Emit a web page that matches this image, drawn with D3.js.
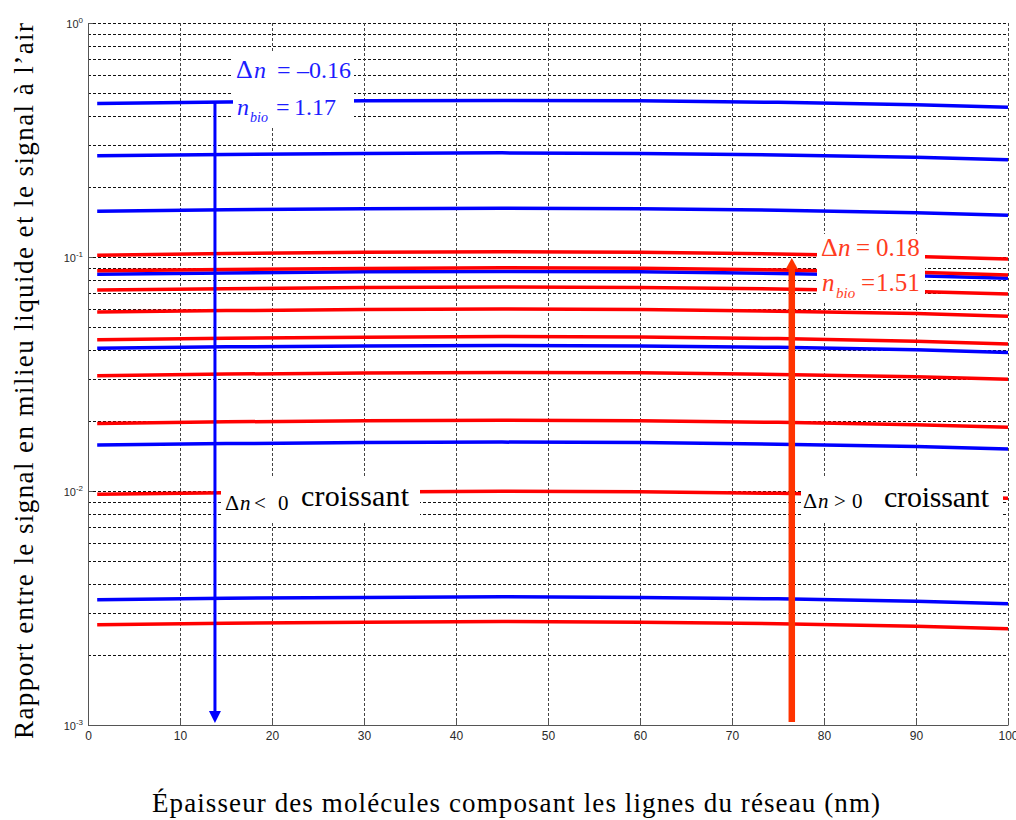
<!DOCTYPE html>
<html>
<head>
<meta charset="utf-8">
<script src="https://cdn.jsdelivr.net/npm/d3@7"></script>
<style>
  body { margin: 0; background: #fff; }
  svg { display: block; }
</style>
</head>
<body>
<svg id="chart" width="1016" height="820"></svg>
<script>
// Thickness of the molecular layer (nm) at which each curve is sampled
const thickness = [1, 15, 30, 45, 60, 75, 90, 100];

// Liquid / air signal ratio, negative index contrast (blue)
const blue1 = [0.453, 0.460, 0.465, 0.467, 0.465, 0.458, 0.447, 0.437];
const blue2 = [0.2705, 0.2745, 0.2772, 0.2786, 0.2772, 0.2730, 0.2666, 0.2602];
const blue3 = [0.1569, 0.1592, 0.1608, 0.1616, 0.1608, 0.1584, 0.1547, 0.1509];
const blue4 = [0.0843, 0.0855, 0.0864, 0.0868, 0.0864, 0.0851, 0.0831, 0.0811];
const blue5 = [0.0407, 0.0413, 0.0417, 0.0419, 0.0417, 0.0411, 0.0401, 0.0391];
const blue6 = [0.01571, 0.01594, 0.01610, 0.01618, 0.01610, 0.01586, 0.01548, 0.01511];
const blue7 = [0.00343, 0.00348, 0.00351, 0.00353, 0.00351, 0.00346, 0.00338, 0.00330];

// Liquid / air signal ratio, positive index contrast (red)
const red1 = [0.1018, 0.1036, 0.1047, 0.1053, 0.1048, 0.1031, 0.1004, 0.0980];
const red2 = [0.0873, 0.0884, 0.0893, 0.0899, 0.0895, 0.0881, 0.0860, 0.0838];
const red3 = [0.0722, 0.0732, 0.0740, 0.0745, 0.0741, 0.0730, 0.0712, 0.0694];
const red4 = [0.0582, 0.0590, 0.0596, 0.0599, 0.0596, 0.0587, 0.0573, 0.0558];
const red5 = [0.0443, 0.0450, 0.0454, 0.0457, 0.0455, 0.0448, 0.0437, 0.0425];
const red6 = [0.0311, 0.0316, 0.0319, 0.0321, 0.0320, 0.0315, 0.0308, 0.0300];
const red7 = [0.01945, 0.01975, 0.01995, 0.02005, 0.01996, 0.01965, 0.01917, 0.01871];
const red8 = [0.00968, 0.00982, 0.00991, 0.00997, 0.00992, 0.00977, 0.00953, 0.00931];
const red9 = [0.00268, 0.00272, 0.00275, 0.00277, 0.00275, 0.00271, 0.00264, 0.00258];

const blueCurves = [blue1, blue2, blue3, blue4, blue5, blue6, blue7];
const redCurves = [red1, red2, red3, red4, red5, red6, red7, red8, red9];

// Axis ticks
const xTicks = [0, 10, 20, 30, 40, 50, 60, 70, 80, 90, 100];
const yTicks = [1e-3, 1e-2, 1e-1, 1];
const yExponents = ["-3", "-2", "-1", "0"];

// Trend arrows: thickness position, start ratio, end ratio
const blueArrow = [13.8, 0.464, 0.00102];
const redArrow = [76.5, 0.00103, 0.099];

const svg = d3.select("#chart");
const x = d3.scaleLinear().domain([0, 100]).range([88, 1008]);
const y = d3.scaleLog().domain([1e-3, 1]).range([725, 23]);

const serif = "'Liberation Serif', 'Times New Roman', serif";
const sans = "'Liberation Sans', Arial, Helvetica, sans-serif";

// ---- grid ----
const grid = svg.append("g").attr("shape-rendering", "crispEdges");
grid.selectAll("line.h")
  .data(y.ticks())
  .join("line")
  .attr("x1", x(0)).attr("x2", x(100))
  .attr("y1", d => Math.round(y(d)) + 0.5)
  .attr("y2", d => Math.round(y(d)) + 0.5)
  .attr("stroke", "#111")
  .attr("stroke-width", 1)
  .attr("stroke-dasharray", "3,2");
grid.selectAll("line.v")
  .data(xTicks.slice(1))
  .join("line")
  .attr("x1", d => Math.round(x(d)) + 0.5)
  .attr("x2", d => Math.round(x(d)) + 0.5)
  .attr("y1", y(1)).attr("y2", y(1e-3))
  .attr("stroke", "#444")
  .attr("stroke-width", 1)
  .attr("stroke-dasharray", "3,2");

// ---- curves ----
const line = d3.line()
  .x((d, i) => x(thickness[i]))
  .y(d => y(d));

svg.append("g").selectAll("path")
  .data(blueCurves)
  .join("path")
  .attr("d", line)
  .attr("fill", "none")
  .attr("stroke", "#0000ff")
  .attr("stroke-width", 3.5);

svg.append("g").selectAll("path")
  .data(redCurves)
  .join("path")
  .attr("d", line)
  .attr("fill", "none")
  .attr("stroke", "#ff0000")
  .attr("stroke-width", 3.5);

// ---- arrows ----
function drawArrow(spec, color, shaftWidth, headW, headH) {
  const ax = x(spec[0]);
  const y0 = y(spec[1]);
  const y1 = y(spec[2]);
  const dir = y1 > y0 ? 1 : -1;
  const g = svg.append("g");
  g.append("line")
    .attr("x1", ax).attr("x2", ax)
    .attr("y1", y0).attr("y2", y1 - dir * headH)
    .attr("stroke", color)
    .attr("stroke-width", shaftWidth);
  g.append("path")
    .attr("d", `M${ax},${y1} L${ax - headW / 2},${y1 - dir * headH} L${ax + headW / 2},${y1 - dir * headH} Z`)
    .attr("fill", color);
}
drawArrow(blueArrow, "#0000ff", 3, 12, 12);
drawArrow(redArrow, "#ff3300", 6.5, 12, 11);

// ---- annotation boxes ----
const notes = svg.append("g");
function box(x0, y0, x1, y1) {
  notes.append("rect")
    .attr("x", x0).attr("y", y0)
    .attr("width", x1 - x0).attr("height", y1 - y0)
    .attr("fill", "#fff");
}
function piece(txt, px, py, size, color, italic) {
  notes.append("text")
    .attr("x", px).attr("y", py)
    .attr("font-family", serif)
    .attr("font-size", size)
    .attr("font-style", italic ? "italic" : "normal")
    .attr("fill", color)
    .text(txt);
}

// Δn = –0.16 / n_bio = 1.17
const blueTxt = "#1c1cff";
box(233, 52, 354, 128);
piece("Δ", 236, 78, 26, blueTxt, false);
piece("n", 254, 78, 24, blueTxt, true);
piece("=", 277, 78, 24, blueTxt, false);
piece("–0.16", 297, 78, 24, blueTxt, false);
piece("n", 237, 115, 24, blueTxt, true);
piece("bio", 250, 122, 14, blueTxt, true);
piece("=", 276, 115, 24, blueTxt, false);
piece("1.17", 294, 115, 24, blueTxt, false);

// Δn = 0.18 / n_bio = 1.51
const redTxt = "#ff3c1e";
box(817, 234, 925, 301);
piece("Δ", 821, 256, 26, redTxt, false);
piece("n", 838, 256, 25, redTxt, true);
piece("=", 856, 256, 25, redTxt, false);
piece("0.18", 876, 256, 25, redTxt, false);
piece("n", 822, 291, 25, redTxt, true);
piece("bio", 836, 298, 15, redTxt, true);
piece("=", 861, 291, 25, redTxt, false);
piece("1.51", 876, 291, 25, redTxt, false);

// Δn < 0 croissant
box(221, 478, 420, 521);
piece("Δ", 225, 510, 22, "#000", false);
piece("n", 240, 510, 21, "#000", true);
piece("<", 254, 510, 21, "#000", false);
piece("0", 278, 510, 21, "#000", false);
notes.append("text")
  .attr("x", 301).attr("y", 506)
  .attr("font-family", serif).attr("font-size", 30)
  .attr("textLength", 108).attr("lengthAdjust", "spacing")
  .text("croissant");

// Δn > 0 croissant
box(801, 478, 1003, 521);
piece("Δ", 803, 508, 22, "#000", false);
piece("n", 818, 508, 21, "#000", true);
piece(">", 834, 508, 21, "#000", false);
piece("0", 852, 508, 21, "#000", false);
notes.append("text")
  .attr("x", 884).attr("y", 507)
  .attr("font-family", serif).attr("font-size", 30)
  .attr("textLength", 105).attr("lengthAdjust", "spacing")
  .text("croissant");

// ---- axes ----
const axisColor = "#555";
const xAxis = svg.append("g")
  .attr("transform", `translate(0,${y(1e-3)})`)
  .call(d3.axisBottom(x).tickValues(xTicks).tickSize(-5).tickSizeOuter(0).tickPadding(6));
xAxis.select(".domain").attr("stroke", axisColor);
xAxis.selectAll(".tick line").attr("stroke", axisColor);
xAxis.selectAll(".tick text")
  .attr("font-family", sans).attr("font-size", 12).attr("fill", "#2a2a2a");

const yAxis = svg.append("g")
  .attr("transform", `translate(${x(0)},0)`)
  .call(d3.axisLeft(y).tickValues(yTicks).tickSize(-5).tickSizeOuter(0).tickPadding(5)
    .tickFormat(() => "10"));
yAxis.select(".domain").attr("stroke", axisColor);
yAxis.selectAll(".tick line").attr("stroke", axisColor);
yAxis.selectAll(".tick text")
  .attr("font-family", sans).attr("font-size", 11).attr("fill", "#2a2a2a")
  .attr("dy", "0.45em")
  .each(function(d, i) {
    d3.select(this).append("tspan")
      .attr("dy", -5)
      .attr("font-size", 8)
      .text(yExponents[i]);
  });

// ---- axis titles ----
svg.append("text")
  .attr("x", 516).attr("y", 812)
  .attr("text-anchor", "middle")
  .attr("font-family", serif).attr("font-size", 27)
  .attr("textLength", 728).attr("lengthAdjust", "spacing")
  .text("Épaisseur des molécules composant les lignes du réseau (nm)");

svg.append("text")
  .attr("transform", "translate(33,381) rotate(-90)")
  .attr("text-anchor", "middle")
  .attr("font-family", serif).attr("font-size", 27)
  .attr("textLength", 716).attr("lengthAdjust", "spacing")
  .text("Rapport entre le signal en milieu liquide et le signal à l’air");
</script>
</body>
</html>
